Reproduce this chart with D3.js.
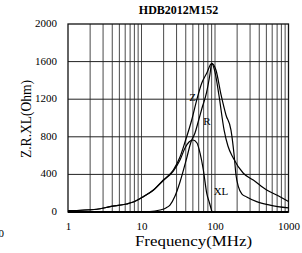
<!DOCTYPE html>
<html><head><meta charset="utf-8">
<script src="https://cdn.jsdelivr.net/npm/d3@7"></script>
<style>
html,body{margin:0;padding:0;background:#fff;}
svg text{fill:#000;}
</style></head>
<body>
<script>
const chartTitle = "HDB2012M152";
const xTicks = [1, 10, 100, 1000];
const yTicks = [0, 400, 800, 1200, 1600, 2000];

const zFreq = [1, 2.46, 3.73, 6.29, 7.73, 10.6, 14.5, 19.8, 27.1, 33.4, 39.1, 48.2, 56.4, 65.9, 77.1, 90.2, 100, 113, 133, 150, 177, 243, 332, 505, 766, 1000];
const zVal  = [14, 29, 57, 85, 106, 163, 234, 340, 447, 585, 745, 979, 1191, 1369, 1476, 1582, 1489, 1245, 872, 702, 574, 412, 340, 234, 163, 112];

const rFreq = [1, 3.73, 13.0, 17.9, 21.5, 24.4, 28.6, 33.4, 41.2, 47.1, 53.4, 60.0, 66.6, 77.1, 85.5, 90.2, 103, 121, 141, 165, 182, 193, 208, 233, 270, 369, 560, 1000];
const rVal  = [3, 3, 5, 21, 43, 74, 170, 319, 574, 745, 840, 979, 1106, 1277, 1468, 1582, 1511, 1245, 1032, 872, 606, 394, 269, 191, 160, 110, 74, 43];

const xlFreq = [1, 2.46, 3.73, 6.29, 7.73, 10.6, 14.5, 19.8, 27.1, 33.4, 39.1, 44.3, 50.2, 56.9, 62.5, 69.4, 77.1, 84.2, 91];
const xlVal  = [14, 29, 57, 85, 106, 163, 232, 335, 435, 553, 681, 745, 766, 734, 628, 447, 202, 96, 0];

const W = 302, H = 253;
const svg = d3.select("body").append("svg").attr("width", W).attr("height", H);
svg.append("rect").attr("width", W).attr("height", H).attr("fill", "#fff");

const x = d3.scaleLog().domain([1, 1000]).range([68, 288.5]);
const y = d3.scaleLinear().domain([0, 2000]).range([212, 24]);

// vertical grid
const minor = [];
for (let d = 1; d < 1000; d *= 10) for (let k = 1; k <= 9; k++) { if (d * k > 1 && d * k < 1000) minor.push(d * k); }
svg.append("g").selectAll("line").data(minor).join("line")
  .attr("x1", d => x(d)).attr("x2", d => x(d)).attr("y1", y(0)).attr("y2", y(2000))
  .attr("stroke", "#4a4a4a").attr("stroke-width", 1);
// horizontal grid
svg.append("g").selectAll("line").data(yTicks.filter(v => v > 0 && v < 2000)).join("line")
  .attr("x1", x(1)).attr("x2", x(1000)).attr("y1", d => y(d)).attr("y2", d => y(d))
  .attr("stroke", "#222").attr("stroke-width", 1);

// frame
svg.append("rect").attr("x", x(1)).attr("y", y(2000)).attr("width", x(1000) - x(1)).attr("height", y(0) - y(2000))
  .attr("fill", "none").attr("stroke", "#111").attr("stroke-width", 1.3);
svg.append("line").attr("x1", x(1)).attr("x2", x(1000)).attr("y1", y(0)).attr("y2", y(0))
  .attr("stroke", "#000").attr("stroke-width", 2);

const FF = "'Liberation Serif','Times New Roman',Times,serif";

// axes (labels only)
const xAxis = d3.axisBottom(x).tickValues(xTicks).tickFormat(d3.format("d")).tickSize(0).tickPadding(0);
const gx = svg.append("g").attr("transform", `translate(0,${y(0) + 13})`).call(xAxis)
  .attr("font-family", FF).attr("font-size", 11);
gx.select(".domain").remove();
gx.selectAll("text").attr("dy", "0.45em");

const yAxis = d3.axisLeft(y).tickValues(yTicks).tickFormat(d3.format("d")).tickSize(0).tickPadding(0);
const gy = svg.append("g").attr("transform", `translate(${x(1) - 11},-1)`).call(yAxis)
  .attr("font-family", FF).attr("font-size", 11);
gy.select(".domain").remove();

// curves
const line = d3.line().x(d => x(d[0])).y(d => y(d[1])).curve(d3.curveMonotoneX);
const series = [
  d3.zip(zFreq, zVal),
  d3.zip(rFreq, rVal),
  d3.zip(xlFreq, xlVal)
];
svg.append("g").selectAll("path").data(series).join("path")
  .attr("d", line).attr("fill", "none").attr("stroke", "#000").attr("stroke-width", 1.2);

const T = (xx, yy, s) => svg.append("text").attr("x", xx).attr("y", yy).attr("font-family", FF).text(s);

// curve labels
T(192.5, 101, "Z").attr("text-anchor", "middle").attr("font-size", 11);
T(207, 125, "R").attr("text-anchor", "middle").attr("font-size", 11);
T(221, 195, "XL").attr("text-anchor", "middle").attr("font-size", 11);

// titles
T(178.5, 14, chartTitle).attr("text-anchor", "middle").attr("font-size", 12).attr("font-weight", "bold");
T(193.5, 246, "Frequency(MHz)").attr("text-anchor", "middle").attr("font-size", 15.5)
  .attr("textLength", 117).attr("lengthAdjust", "spacingAndGlyphs");
svg.append("text").attr("transform", "translate(31,119) rotate(-90)").attr("text-anchor", "middle")
  .attr("font-family", FF).attr("font-size", 14).attr("textLength", 78).attr("lengthAdjust", "spacingAndGlyphs").text("Z.R.XL(Ohm)");

// stray cut-off label at left edge
T(4, 237, "0").attr("text-anchor", "end").attr("font-size", 11);
</script>
</body></html>
